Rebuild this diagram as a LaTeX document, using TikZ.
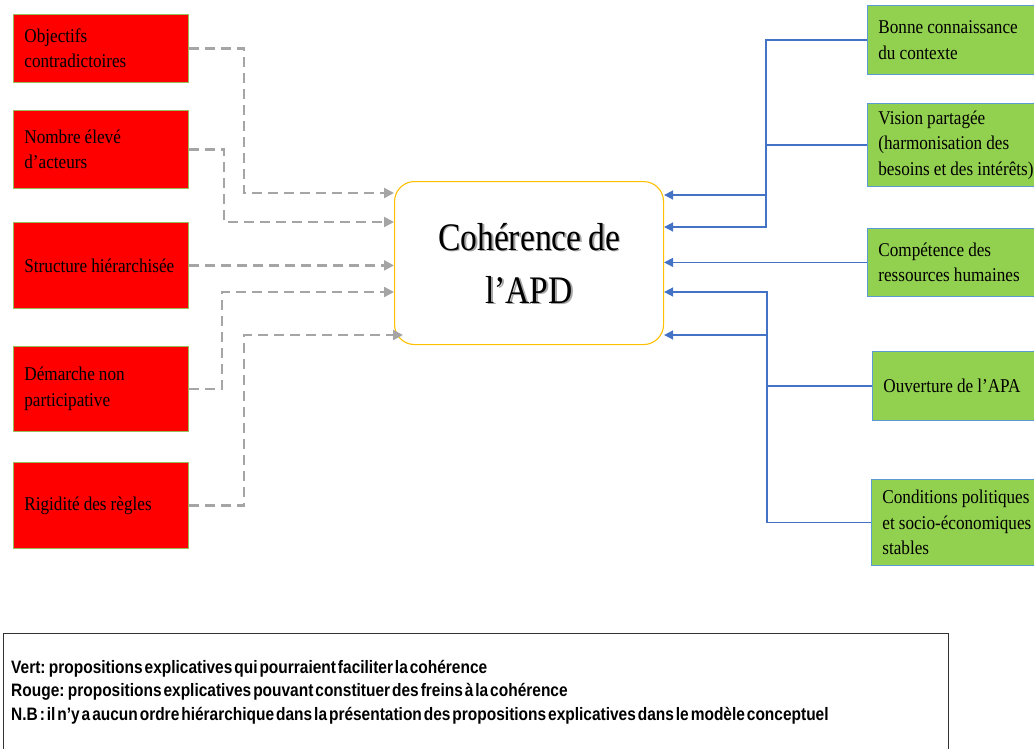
\documentclass[tikz,border=0pt]{standalone}
\usepackage{fontspec}
\setmainfont{Liberation Serif}
\newfontfamily\boxfont[FakeStretch=0.88,WordSpace=0.95]{Liberation Serif}
\newfontfamily\bigfont[FakeStretch=0.86,WordSpace=0.8]{Liberation Serif}
\newfontfamily\legfont[FakeStretch=0.86,WordSpace=0.45]{Liberation Sans}
\usetikzlibrary{arrows.meta,calc}
\definecolor{redf}{HTML}{FF0000}
\definecolor{redb}{HTML}{9BBB59}
\definecolor{greenf}{HTML}{92D050}
\definecolor{greenb}{HTML}{5B9BD5}
\definecolor{goldb}{HTML}{FFC000}
\definecolor{greyl}{HTML}{A5A5A5}
\definecolor{bluel}{HTML}{4472C4}
\begin{document}
\begin{tikzpicture}[x=1pt,y=-1pt,
  basebox/.style={anchor=north west, inner xsep=11pt, inner ysep=0pt, align=flush left,
    font=\boxfont\fontsize{19.5}{25.5}\selectfont},
  rbox/.style={basebox, draw=redb, line width=0.8pt, fill=redf, text width=153pt, minimum width=173pt},
  gbox/.style={basebox, draw=greenb, line width=0.8pt, fill=greenf, text width=158pt, minimum width=180pt},
  garrow/.style={draw=greyl, line width=2.2pt, dash pattern=on 10pt off 6pt,
    -{Triangle[length=10pt,width=10pt]}},
  barrow/.style={draw=bluel, line width=1.5pt, -{Triangle[length=9pt,width=9pt]}},
  legline/.style={anchor=base west, inner sep=0pt, font=\legfont\bfseries\fontsize{18}{22}\selectfont}
]
\useasboundingbox (0,0) rectangle (1034,748);

% red boxes
\node[rbox, minimum height=68pt] (r1) at (13,14) {Objectifs\\contradictoires};
\node[rbox, minimum height=78pt] (r2) at (13,110) {Nombre élevé\\d’acteurs};
\node[rbox, minimum height=86pt] (r3) at (13,222) {Structure hiérarchisée};
\node[rbox, minimum height=85pt] (r4) at (13,346) {Démarche non\\participative};
\node[rbox, minimum height=86pt] (r5) at (13,462) {Rigidité des règles};

% green boxes
\node[gbox, minimum height=69pt] (g1) at (867,5) {Bonne connaissance\\du contexte};
\node[gbox, minimum height=83pt] (g2) at (867,103) {Vision partagée\\(harmonisation des\\besoins et des intérêts)};
\node[gbox, minimum height=68pt] (g3) at (867,228) {Compétence des\\ressources humaines};
\node[gbox, minimum height=69pt, inner xsep=10pt] (g4) at (872,351) {Ouverture de l’APA};
\node[gbox, minimum height=86pt, inner xsep=10pt] (g5) at (871,479) {Conditions politiques\\et socio-économiques\\stables};

% centre
\node[draw=goldb, line width=1.1pt, fill=white, rounded corners=20pt, anchor=north west,
  minimum width=269pt, minimum height=163pt] (c) at (394,181) {};
\node[align=center, text=black!35, font=\bigfont\fontsize{39}{53}\selectfont] (cs)
  at ($(c.center)+(1.8,1.8)$) {Cohérence de\\l’APD};
\node[align=center, font=\bigfont\fontsize{39}{53}\selectfont] (ct)
  at (c.center) {Cohérence de\\l’APD};

% grey dashed connectors
\draw[garrow] (r1.east) -| (244,193) -- (c.west |- 0,193);
\draw[garrow] (r2.east) -| (224,222) -- (c.west |- 0,222);
\draw[garrow] (r3.east) -- (r3.east -| c.west);
\draw[garrow] (r4.east) -| (222,292) -- (c.west |- 0,292);
\draw[garrow] (r5.east) -| (244,335) -- ($(c.west |- 0,335)+(9,0)$);

% blue connectors
\draw[barrow] (g1.west) -| (766,227) -- (c.east |- 0,227);
\draw[barrow] (g2.west) -| (766,195) -- (c.east |- 0,195);
\draw[barrow] (g3.west) -- (g3.west -| c.east);
\draw[barrow] (g4.west) -| (767,292) -- (c.east |- 0,292);
\draw[barrow] (g5.west) -| (767,335) -- (c.east |- 0,335);

% legend
\node[draw=black!80, line width=1.2pt, anchor=north west, minimum width=945pt,
  minimum height=150pt] (leg) at (3,633) {};
\node[legline] (l1) at (11,673) {Vert: propositions explicatives qui pourraient faciliter la cohérence};
\node[legline] (l2) at (11,696.5) {Rouge: propositions explicatives pouvant constituer des freins à la cohérence};
\node[legline] (l3) at (11,720) {N.B : il n’y a aucun ordre hiérarchique dans la présentation des propositions explicatives dans le modèle conceptuel};
\end{tikzpicture}
\end{document}
